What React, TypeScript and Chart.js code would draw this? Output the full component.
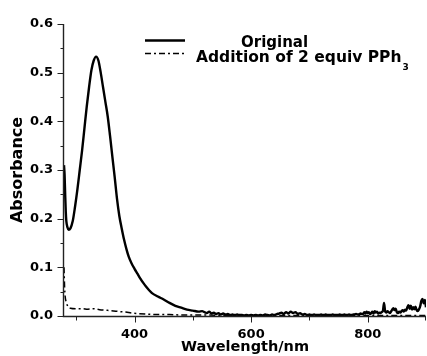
import React, { useEffect, useRef } from "react";
import { Chart, registerables } from "chart.js";

Chart.register(...registerables);

// ---- Data ----
const originalWavelengths = [
  279, 280, 281, 282, 283, 285, 287, 290, 294, 298, 302, 306, 310, 314, 318, 322, 326, 330, 334, 338,
  342, 346, 350, 354, 358, 362, 366, 370, 374, 378, 382, 386, 390, 395, 400, 405, 410, 415, 420, 425,
  430, 440, 450, 460, 470, 480, 490, 500, 510, 516,
  520, 524, 528, 532, 536, 540, 544, 548, 552, 556, 560, 564, 568, 572, 576, 580, 584, 588, 592, 596, 600,
  604, 608, 612, 616, 620, 624, 628, 632, 636, 640,
  644, 648, 652, 656, 660, 664, 668, 672, 676, 680, 684, 688,
  692, 696, 700, 704, 708, 712, 716, 720, 724, 728, 732, 736, 740, 744, 748, 752, 756, 760, 764, 768, 772, 776, 780, 784, 788,
  790, 792, 794, 796, 798, 800, 802, 804, 806, 808, 810, 812, 814, 816, 818, 820, 822, 824, 826, 828,
  830, 832, 834, 836, 838, 840, 842, 844, 846, 848, 850, 852, 854, 856, 858, 860, 862, 864, 866, 868,
  870, 872, 874, 876, 878, 880, 882, 884, 886, 888, 890, 892, 894, 896, 898, 900,
];
const originalAbsorbance = [
  0.31, 0.29, 0.25, 0.215, 0.195, 0.182, 0.177, 0.18, 0.195, 0.225, 0.26, 0.3, 0.34, 0.385, 0.43, 0.47, 0.505, 0.525, 0.533, 0.525,
  0.5, 0.47, 0.44, 0.41, 0.37, 0.327, 0.285, 0.24, 0.205, 0.18, 0.157, 0.138, 0.122, 0.108, 0.097, 0.087, 0.077, 0.068, 0.06, 0.053,
  0.047, 0.04, 0.034, 0.027, 0.021, 0.017, 0.013, 0.011, 0.009, 0.01,
  0.008, 0.006, 0.009, 0.005, 0.007, 0.004, 0.006, 0.003, 0.005, 0.003, 0.004, 0.002, 0.003, 0.002, 0.003, 0.002, 0.002, 0.001, 0.002, 0.001, 0.002,
  0.001, 0.002, 0.001, 0.002, 0.001, 0.003, 0.002, 0.001, 0.003, 0.002, 0.004,
  0.005, 0.007, 0.004, 0.008, 0.005, 0.009, 0.006, 0.008, 0.004, 0.006, 0.003, 0.004,
  0.002, 0.003, 0.002, 0.003, 0.002, 0.002, 0.003, 0.002, 0.003, 0.002, 0.002, 0.003, 0.002, 0.002, 0.003, 0.002, 0.003, 0.002, 0.003, 0.002, 0.003, 0.004, 0.003, 0.005, 0.004,
  0.004, 0.008, 0.005, 0.009, 0.006, 0.008, 0.004, 0.006, 0.009, 0.005, 0.01, 0.007, 0.009, 0.005, 0.007, 0.006, 0.008, 0.01, 0.027, 0.009,
  0.007, 0.01, 0.008, 0.006, 0.009, 0.013, 0.016, 0.012, 0.015, 0.008, 0.006, 0.009, 0.007, 0.01, 0.012, 0.009, 0.013, 0.011, 0.018, 0.022,
  0.015, 0.021, 0.013, 0.018, 0.014, 0.019, 0.012, 0.01, 0.014, 0.02, 0.031, 0.035, 0.026, 0.033, 0.018, 0.022,
];

const pph3Wavelengths = [
  279, 280, 281, 283, 286, 290, 300, 310, 320, 330, 340, 350, 360, 368, 375, 385, 395, 405, 420, 440,
  460, 480, 500, 520, 560, 600, 700, 800, 900,
];
const pph3Absorbance = [
  0.1, 0.06, 0.04, 0.028, 0.019, 0.016, 0.015, 0.015, 0.014, 0.015, 0.013, 0.012, 0.011, 0.01, 0.009, 0.008, 0.006, 0.005, 0.004, 0.003,
  0.003, 0.002, 0.002, 0.002, 0.001, 0.001, 0.001, 0.001, 0.001,
];

const seriesLabels = ["Original", "Addition of 2 equiv PPh\u2083"];
const xTickLabels = [400, 600, 800];
const xMinorTicks = [300, 500, 700, 900];
const yTickLabels = [0, 0.1, 0.2, 0.3, 0.4, 0.5, 0.6];
const yMinorTicks = [0.05, 0.15, 0.25, 0.35, 0.45, 0.55];

const FONT = "'DejaVu Sans', sans-serif";

const decorPlugin = {
  id: "decor",
  afterDraw(chart: any) {
    const { ctx, chartArea, scales } = chart;
    const { left, right, top, bottom } = chartArea;
    const x = scales.x;
    const y = scales.y;
    ctx.save();
    ctx.strokeStyle = "#222";
    ctx.lineWidth = 1.4;
    ctx.beginPath();
    ctx.moveTo(left - 0.5, top);
    ctx.lineTo(left - 0.5, bottom + 0.5);
    ctx.lineTo(right, bottom + 0.5);
    ctx.stroke();
    ctx.lineWidth = 1;
    ctx.beginPath();
    yTickLabels.forEach((v) => {
      const p = Math.round(y.getPixelForValue(v)) + 0.5;
      ctx.moveTo(left - 0.5, p);
      ctx.lineTo(left - 6.5, p);
    });
    yMinorTicks.forEach((v) => {
      const p = Math.round(y.getPixelForValue(v)) + 0.5;
      ctx.moveTo(left - 0.5, p);
      ctx.lineTo(left - 3.5, p);
    });
    xTickLabels.forEach((v) => {
      const p = Math.round(x.getPixelForValue(v)) + 0.5;
      ctx.moveTo(p, bottom + 0.5);
      ctx.lineTo(p, bottom + 6.5);
    });
    xMinorTicks.forEach((v) => {
      const p = Math.min(Math.round(x.getPixelForValue(v)) + 0.5, right - 0.5);
      ctx.moveTo(p, bottom + 0.5);
      ctx.lineTo(p, bottom + 4.5);
    });
    ctx.stroke();

    // legend
    const ds = chart.data.datasets;
    ctx.strokeStyle = "#000";
    ctx.fillStyle = "#000";
    ctx.lineWidth = 2.4;
    ctx.setLineDash([]);
    ctx.beginPath();
    ctx.moveTo(145, 40.5);
    ctx.lineTo(185, 40.5);
    ctx.stroke();
    ctx.lineWidth = 1.5;
    ctx.setLineDash([6, 3, 2, 3]);
    ctx.beginPath();
    ctx.moveTo(145, 53.5);
    ctx.lineTo(185, 53.5);
    ctx.stroke();
    ctx.setLineDash([]);
    ctx.font = `bold 15px ${FONT}`;
    ctx.textBaseline = "alphabetic";
    ctx.textAlign = "left";
    ctx.fillText(ds[0].label, 241, 46.5);
    const lbl: string = ds[1].label;
    ctx.font = `bold 15.5px ${FONT}`;
    if (lbl.endsWith("\u2083")) {
      const main = lbl.slice(0, -1);
      ctx.fillText(main, 196, 61.5);
      const w = ctx.measureText(main).width;
      ctx.font = `bold 9px ${FONT}`;
      ctx.fillText("3", 196 + w + 1, 70);
    } else {
      ctx.fillText(lbl, 196, 61.5);
    }
    ctx.restore();
  },
};

export default function App() {
  const ref = useRef<HTMLCanvasElement | null>(null);
  useEffect(() => {
    if (!ref.current) return;
    const chart = new Chart(ref.current, {
      type: "line",
      data: {
        datasets: [
          {
            label: seriesLabels[0],
            data: originalWavelengths.map((w, i) => ({ x: w, y: originalAbsorbance[i] })),
            borderColor: "#000",
            borderWidth: 2.4,
            pointRadius: 0,
            cubicInterpolationMode: "monotone",
          },
          {
            label: seriesLabels[1],
            data: pph3Wavelengths.map((w, i) => ({ x: w, y: pph3Absorbance[i] })),
            borderColor: "#000",
            borderWidth: 1.5,
            borderDash: [6, 3, 2, 3],
            pointRadius: 0,
            cubicInterpolationMode: "monotone",
          },
        ],
      },
      options: {
        animation: false,
        responsive: false,
        layout: { padding: { top: 24, right: 1, left: 0, bottom: 0 } },
        plugins: { legend: { display: false }, tooltip: { enabled: false } },
        scales: {
          x: {
            type: "linear",
            min: 279,
            max: 900,
            grid: { display: false, drawTicks: false },
            border: { display: false },
            ticks: {
              font: { family: FONT, weight: "bold", size: 13 },
              color: "#000",
              padding: 11,
              maxRotation: 0,
              autoSkip: false,
            },
            afterBuildTicks: (s: any) => {
              s.ticks = xTickLabels.map((v) => ({ value: v }));
            },
            afterFit: (s: any) => {
              s.height = 40;
            },
            title: {
              display: true,
              text: "Wavelength/nm",
              color: "#000",
              font: { family: FONT, weight: "bold", size: 14.5 },
              padding: { top: 0, bottom: 0 },
            },
          },
          y: {
            type: "linear",
            min: 0,
            max: 0.6,
            grid: { display: false, drawTicks: false },
            border: { display: false },
            ticks: {
              font: { family: FONT, weight: "bold", size: 13 },
              color: "#000",
              padding: 11,
              callback: (v: any) => Number(v).toFixed(1),
            },
            afterBuildTicks: (s: any) => {
              s.ticks = yTickLabels.map((v) => ({ value: v }));
            },
            afterFit: (s: any) => {
              s.width = 64;
            },
            title: {
              display: true,
              text: "Absorbance",
              color: "#000",
              font: { family: FONT, weight: "bold", size: 16 },
              padding: { top: 8, bottom: 0 },
            },
          },
        },
      },
      plugins: [decorPlugin],
    } as any);
    return () => chart.destroy();
  }, []);
  return (
    <div style={{ position: "absolute", left: 0, top: 0, width: 427, height: 356, background: "#fff" }}>
      <canvas ref={ref} width={427} height={356} style={{ width: 427, height: 356, display: "block" }} />
    </div>
  );
}
